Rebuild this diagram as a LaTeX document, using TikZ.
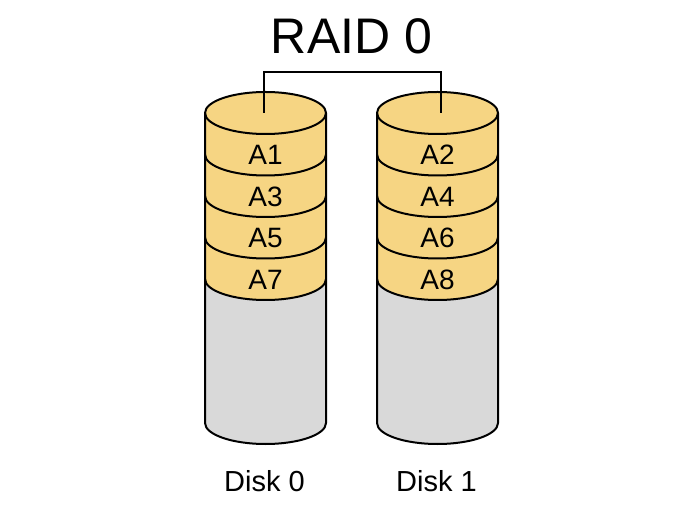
\documentclass[tikz,border=0pt]{standalone}
\usepackage{fontspec}
\setmainfont{Liberation Sans}
\definecolor{slicefill}{RGB}{246,213,131}
\definecolor{freefill}{RGB}{217,217,217}
\begin{document}
\begin{tikzpicture}[x=1pt,y=1pt,
  outline/.style={draw=black, line width=2pt, line join=round},
  slicetxt/.style={font=\fontsize{28}{28}\selectfont, inner sep=0pt},
  disktxt/.style={font=\fontsize{29}{29}\selectfont, inner sep=0pt},
  titletxt/.style={font=\fontsize{50}{50}\selectfont, inner sep=0pt},
  conn/.style={draw=black, line width=1.5pt}]
\useasboundingbox (0,0) rectangle (700,519);
\def\rx{60.5}\def\ry{21}
\foreach \cx/\a/\b/\c/\d/\nm/\k in {265.5/A1/A3/A5/A7/Disk 0/0, 437.5/A2/A4/A6/A8/Disk 1/1} {
  \fill[freefill] (\cx-\rx,240) -- (\cx-\rx,96) arc[start angle=180,end angle=360,x radius=\rx,y radius=\ry] -- (\cx+\rx,240) -- cycle;
  \fill[slicefill] (\cx-\rx,406) -- (\cx-\rx,240) arc[start angle=180,end angle=360,x radius=\rx,y radius=\ry] -- (\cx+\rx,406) -- cycle;
  \draw[outline, fill=slicefill] (\cx,406) ellipse[x radius=\rx, y radius=\ry];
  \foreach \yy in {364.5,323,281.5,240}
    \draw[outline] (\cx-\rx,\yy) arc[start angle=180,end angle=360,x radius=\rx,y radius=\ry];
  \draw[outline] (\cx-\rx,406) -- (\cx-\rx,96) arc[start angle=180,end angle=360,x radius=\rx,y radius=\ry] -- (\cx+\rx,406);
  \node[slicetxt] (s\k a) at (\cx,364) {\a};
  \node[slicetxt] (s\k b) at (\cx,322.5) {\b};
  \node[slicetxt] (s\k c) at (\cx,281) {\c};
  \node[slicetxt] (s\k d) at (\cx,239.5) {\d};
  \node[disktxt] (disk\k) at (\cx-1,38) {\nm};
}
\node[titletxt] (title) at (351.5,482.5) {RAID 0};
\coordinate (top0) at (264,406);
\coordinate (top1) at (441,406);
\coordinate (busL) at (264,447);
\draw[conn] (top0) -- (busL) -| (top1);
\end{tikzpicture}
\end{document}
